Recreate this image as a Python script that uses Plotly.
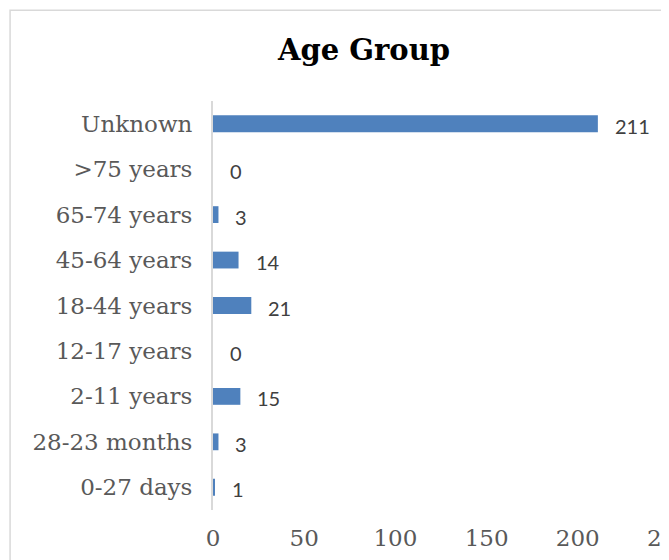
import plotly.graph_objects as go

age_groups = ["Unknown", ">75 years", "65-74 years", "45-64 years", "18-44 years",
              "12-17 years", "2-11 years", "28-23 months", "0-27 days"]
counts = [211, 0, 3, 14, 21, 0, 15, 3, 1]
x_ticks = [0, 50, 100, 150, 200, 250]

serif = "DejaVu Serif"
grey_text = "#595959"

fig = go.Figure()
fig.add_bar(x=counts, y=age_groups, orientation="h",
            marker=dict(color="#4F81BD", line=dict(width=0)),
            width=0.37, hoverinfo="x+y")

# data labels to the right of each bar
for n, grp in zip(counts, age_groups):
    fig.add_annotation(x=n, y=grp, text=str(n), showarrow=False,
                       xanchor="left", xshift=15, yshift=-2,
                       font=dict(family="Lato", size=20, color="#404040"))

# light chart border (left/top visible, rest cropped off)
fig.add_shape(type="rect", xref="paper", yref="paper",
              x0=-0.445, x1=1.2, y0=-0.2, y1=1.222,
              line=dict(color="#d9d9d9", width=1.5), layer="below")

# page body has an 8px margin, so the figure is 8px smaller than the window
fig.update_layout(
    width=661, height=552,
    margin=dict(l=205, r=0, t=93, b=50),
    paper_bgcolor="white", plot_bgcolor="white",
    showlegend=False,
    title=dict(text="<b>Age Group</b>", x=0.5386, xanchor="center",
               y=1 - 42 / 552, yanchor="middle",
               font=dict(family=serif, size=29, color="black")),
    xaxis=dict(range=[0, 250], tickvals=x_ticks, showgrid=False,
               zeroline=False, showline=False, ticks="",
               ticklabelstandoff=12, ticklabeloverflow="allow",
               automargin=False,
               tickfont=dict(family=serif, size=23, color=grey_text)),
    yaxis=dict(autorange="reversed", showgrid=False, zeroline=False,
               showline=True, linecolor="#d9d9d9", linewidth=2,
               ticks="", ticklabelstandoff=14, automargin=False,
               tickfont=dict(family=serif, size=23, color=grey_text)),
)

fig.write_html("out.html")
